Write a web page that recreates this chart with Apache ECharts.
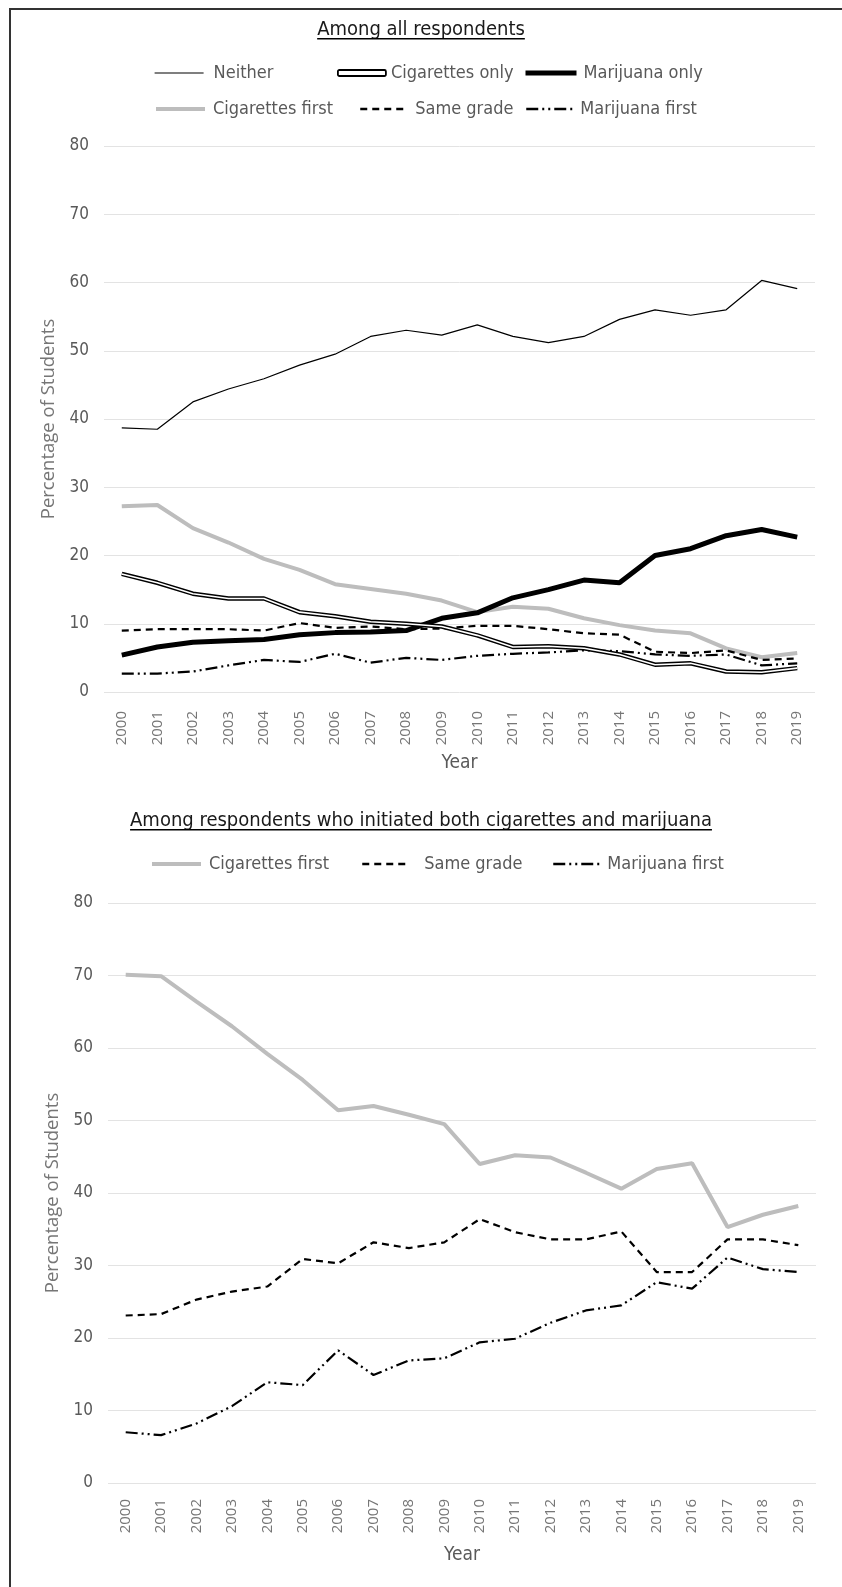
<!DOCTYPE html>
<html>
<head>
<meta charset="utf-8">
<script src="https://cdn.jsdelivr.net/npm/echarts@6/dist/echarts.min.js"></script>
<style>
  body { margin: 0; background: #fff; }
  #wrap { position: relative; width: 842px; height: 1587px; }
  #main { width: 842px; height: 1587px; }
  /* frame: only top and left edges are visible in the source */
  #frame { position: absolute; left: 9px; top: 8px; right: 0; bottom: 0;
           border-left: 2px solid #333; border-top: 2px solid #333; pointer-events: none; }
</style>
</head>
<body>
<div id="wrap">
  <div id="main"></div>
  <div id="frame"></div>
</div>
<script>
// years on the x axis
var years = ['2000','2001','2002','2003','2004','2005','2006','2007','2008','2009',
             '2010','2011','2012','2013','2014','2015','2016','2017','2018','2019'];

// top panel: among all respondents (%)
var neither        = [38.7, 38.5, 42.5, 44.4, 45.9, 47.9, 49.5, 52.1, 53.0, 52.3, 53.8, 52.1, 51.2, 52.1, 54.6, 56.0, 55.2, 56.0, 60.3, 59.1];
var cigOnly        = [17.3, 16.0, 14.4, 13.7, 13.7, 11.7, 11.1, 10.3, 10.0, 9.6, 8.3, 6.6, 6.7, 6.4, 5.5, 4.0, 4.2, 3.0, 2.9, 3.5];
var marOnly        = [5.4, 6.6, 7.3, 7.5, 7.7, 8.4, 8.7, 8.8, 9.0, 10.8, 11.6, 13.8, 15.0, 16.4, 16.0, 20.0, 21.0, 22.9, 23.8, 22.7];
var cigFirstAll    = [27.2, 27.4, 24.0, 21.9, 19.5, 17.9, 15.8, 15.1, 14.4, 13.4, 11.7, 12.5, 12.2, 10.8, 9.8, 9.0, 8.6, 6.4, 5.1, 5.7];
var sameGradeAll   = [9.0, 9.2, 9.2, 9.2, 9.0, 10.1, 9.4, 9.6, 9.2, 9.3, 9.7, 9.7, 9.2, 8.6, 8.4, 5.9, 5.7, 6.1, 4.7, 4.9];
var marFirstAll    = [2.7, 2.7, 3.0, 3.9, 4.7, 4.4, 5.6, 4.3, 5.0, 4.7, 5.3, 5.6, 5.8, 6.1, 6.0, 5.5, 5.3, 5.5, 3.9, 4.2];

// bottom panel: among respondents who initiated both (%)
var cigFirstBoth   = [70.1, 69.9, 66.4, 63.0, 59.2, 55.6, 51.4, 52.0, 50.8, 49.5, 44.0, 45.2, 44.9, 42.8, 40.6, 43.3, 44.1, 35.3, 37.0, 38.2];
var sameGradeBoth  = [23.1, 23.3, 25.3, 26.4, 27.1, 30.9, 30.3, 33.2, 32.4, 33.2, 36.4, 34.6, 33.6, 33.6, 34.7, 29.1, 29.1, 33.6, 33.6, 32.8];
var marFirstBoth   = [7.0, 6.6, 8.2, 10.6, 13.9, 13.5, 18.3, 14.9, 16.9, 17.2, 19.4, 19.9, 22.1, 23.8, 24.5, 27.7, 26.8, 31.1, 29.5, 29.1];

var yTicks = [0, 80, 10]; // min, max, step

var title1 = 'Among all respondents';
var title2 = 'Among respondents who initiated both cigarettes and marijuana';

var narrow = '"Liberation Sans Narrow", "DejaVu Sans Condensed", sans-serif';
var wide = '"Open Sans", "DejaVu Sans", sans-serif';
var grey = '#595959';
var lightGrey = '#bdbdbd';
var dashDotDot = [12, 4, 2, 4, 2, 4];

// measure title widths for the underline
var ctx = document.createElement('canvas').getContext('2d');
function textWidth(txt, font) {
  ctx.font = font;
  return ctx.measureText(txt).width;
}
var titleFont = '20px ' + narrow;
var w1 = textWidth(title1, titleFont);
var w2 = textWidth(title2, titleFont);

function xAxis(grid, gap, margin) {
  return {
    type: 'category', gridIndex: grid, data: years, boundaryGap: true,
    axisLine: { show: false }, axisTick: { show: false },
    axisLabel: { rotate: 90, margin: margin, color: '#767676', fontFamily: wide, fontSize: 15 },
    name: 'Year', nameLocation: 'middle', nameGap: gap,
    nameTextStyle: { color: grey, fontFamily: narrow, fontSize: 19 }
  };
}
function yAxis(grid, gap) {
  return {
    type: 'value', gridIndex: grid, min: yTicks[0], max: yTicks[1], interval: yTicks[2],
    axisLine: { show: false }, axisTick: { show: false },
    axisLabel: { margin: 15, color: grey, fontFamily: narrow, fontSize: 17 },
    splitLine: { lineStyle: { color: '#e3e3e3', width: 1 } },
    name: 'Percentage of Students', nameLocation: 'middle', nameGap: gap,
    nameTextStyle: { color: '#767676', fontFamily: wide, fontSize: 18.5 }
  };
}
function line(name, data, grid, color, width, type, z) {
  return {
    name: name, type: 'line', data: data, xAxisIndex: grid, yAxisIndex: grid,
    symbol: 'none', smooth: false, z: z || 2,
    lineStyle: { color: color, width: width, type: type || 'solid' },
    itemStyle: { color: color }
  };
}
function legend(item, left, top, w, h, lineW, gap) {
  var l = {
    data: [item], left: left, top: top, itemWidth: w, itemHeight: h || 14, itemGap: 0,
    padding: 0, selectedMode: false,
    textStyle: { color: grey, fontFamily: narrow, fontSize: 18, padding: [0, 0, 0, gap || 0] }
  };
  if (lineW) {
    // plain line icon, hide the marker dot
    l.lineStyle = { width: lineW };
    l.itemStyle = { opacity: 0 };
  }
  return l;
}

var chart = echarts.init(document.getElementById('main'));
chart.setOption({
  animation: false,
  grid: [
    { left: 104, right: 27, top: 146, height: 546 },
    { left: 108, right: 26, top: 903, height: 580 }
  ],
  xAxis: [xAxis(0, 62, 19), xAxis(1, 63, 16)],
  yAxis: [yAxis(0, 45), yAxis(1, 46)],
  legend: [
    legend('Neither', 154, 64, 49, 14, 1.2, 5),
    legend({ name: 'Cigarettes only', icon: 'roundRect',
             itemStyle: { color: '#fff', borderColor: '#000', borderWidth: 1.8 } }, 337, 64, 48, 6, 0, 0),
    legend('Marijuana only', 523, 64, 51, 14, 5, 2),
    legend('Cigarettes first', 154, 100, 49, 14, 4, 3),
    legend('Same grade', 359, 100, 45, 14, 2.5, 5),
    legend('Marijuana first', 525, 100, 49, 14, 2.5, 0),
    legend('Cigarettes first', 150, 855, 49, 14, 4, 3),
    legend('Same grade', 361, 855, 45, 14, 2.5, 12),
    legend('Marijuana first', 552, 855, 49, 14, 2.5, 0)
  ],
  graphic: [
    { type: 'text', left: 'center', top: 20, style: { text: title1, font: titleFont, fill: '#1a1a1a' } },
    { type: 'rect', left: 'center', top: 38, shape: { width: w1, height: 1.5 }, style: { fill: '#000' } },
    { type: 'text', left: 'center', top: 811, style: { text: title2, font: titleFont, fill: '#1a1a1a' } },
    { type: 'rect', left: 'center', top: 829, shape: { width: w2, height: 1.5 }, style: { fill: '#000' } }
  ],
  series: [
    line('Neither', neither, 0, '#000', 1.2),
    line('Cigarettes only', cigOnly, 0, '#000', 4.5),
    line('Cigarettes only core', cigOnly, 0, '#fff', 1.6, 'solid', 3),
    line('Marijuana only', marOnly, 0, '#000', 5),
    line('Cigarettes first', cigFirstAll, 0, lightGrey, 4, 'solid', 1),
    line('Same grade', sameGradeAll, 0, '#000', 2.2, [7, 5]),
    line('Marijuana first', marFirstAll, 0, '#000', 2.2, dashDotDot),
    line('Cigarettes first', cigFirstBoth, 1, lightGrey, 4, 'solid', 1),
    line('Same grade', sameGradeBoth, 1, '#000', 2.2, [7, 5]),
    line('Marijuana first', marFirstBoth, 1, '#000', 2.2, dashDotDot)
  ]
});
</script>
</body>
</html>
